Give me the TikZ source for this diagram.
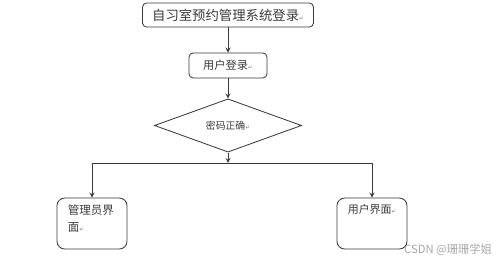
\documentclass[tikz,border=0pt]{standalone}
\usepackage{fontspec}
\setmainfont{Noto Sans CJK SC}
\newfontfamily\symfont{DejaVu Sans}
\usepackage{tikz}
\usetikzlibrary{arrows,shapes,positioning}
\definecolor{inkgray}{HTML}{3A3A3A}
\newcommand{\pmark}{{\symfont\fontsize{4}{4}\selectfont\textcolor{gray}{↵}}}

\begin{document}
\begin{tikzpicture}[->,>=stealth,x=0.025cm,y=-0.025cm,
  color=inkgray,line width=0.6pt,
  box/.style={draw,rounded corners=3pt,inner sep=0pt},
  check/.style={draw,diamond,inner sep=0pt,
    minimum width=3.675cm,minimum height=1.075cm},
  panel/.style={draw,rounded corners=5.5pt,
    inner xsep=0.27cm,inner ysep=0.16cm},
  wmark/.style={text=black!35,font=\fontsize{8}{9}\selectfont}]
\useasboundingbox (0,0) rectangle (499,263);
\node[box,minimum width=4.275cm,minimum height=0.6cm,
  font=\fontsize{9.5}{10}\selectfont] (title) at (228,15) {自习室预约管理系统登录\pmark};
\node[box,minimum width=1.95cm,minimum height=0.625cm,
  font=\fontsize{8}{9}\selectfont] (login) at (228,65.5) {用户登录\pmark};
\node[check,font=\fontsize{7}{8}\selectfont] (pwd) at (228,125.5) {密码正确\pmark};
\coordinate (split) at (228,163);
\node[panel,font=\fontsize{8.2}{12}\selectfont] (admin) at (92,223.5)
  {\parbox[c][0.955cm][t]{1.21cm}{管理员界\\面\pmark}};
\node[panel,font=\fontsize{7.8}{12}\selectfont] (user) at (372,223.5)
  {\parbox[c][0.955cm][t]{1.21cm}{用户界面\pmark}};
\node[wmark] (wm) at (448,250) {CSDN @珊珊学姐};
\draw (title) -- (login);
\draw (login) -- (pwd);
\draw (pwd) -- (split);
\draw (split) -| (admin);
\draw (split) -| (user);
\end{tikzpicture}
\end{document}
